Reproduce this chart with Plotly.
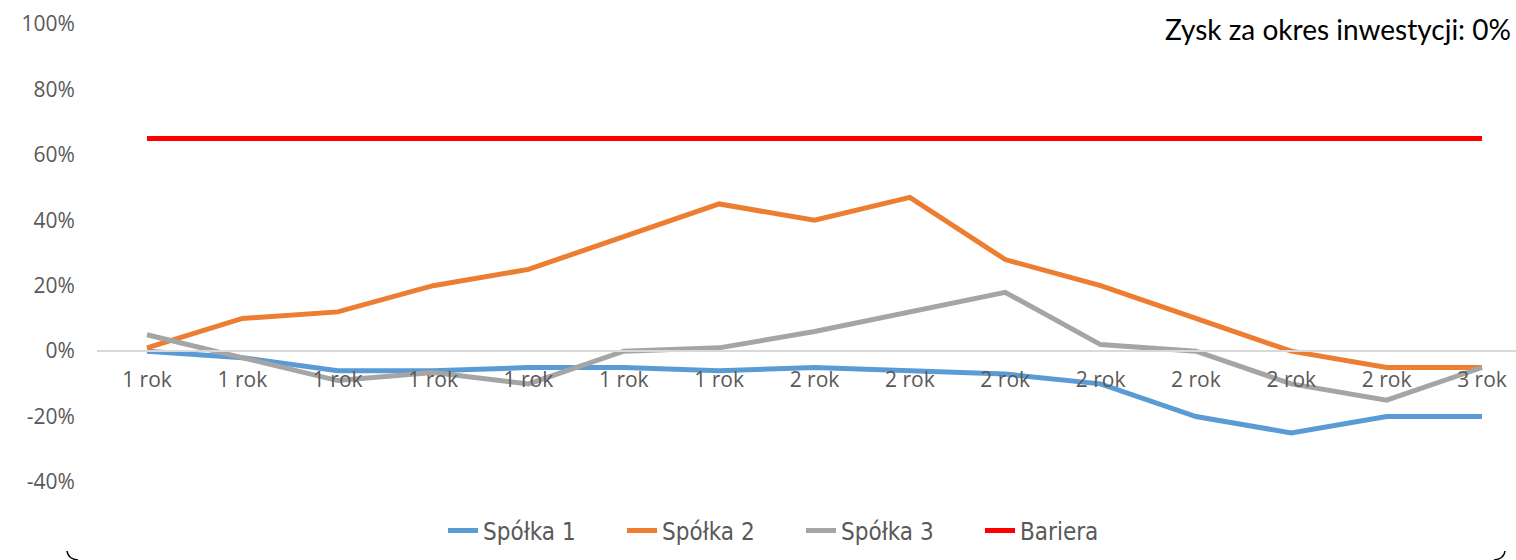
import plotly.graph_objects as go

labels = ["1 rok"] * 7 + ["2 rok"] * 7 + ["3 rok"]
spolka1 = [0, -2, -6, -6, -5, -5, -6, -5, -6, -7, -10, -20, -25, -20, -20]
spolka2 = [1, 10, 12, 20, 25, 35, 45, 40, 47, 28, 20, 10, 0, -5, -5]
spolka3 = [5, -2, -9, -6.5, -10, 0, 1, 6, 12, 18, 2, 0, -10, -15, -5]
bariera = [65] * 15
y_ticks = [-40, -20, 0, 20, 40, 60, 80, 100]

x = list(range(len(labels)))
W, H = 1516, 560
L, R, T, B = 97, 1516, 24, 482

series = [
    ("Spółka 1", spolka1, "#5B9BD5"),
    ("Spółka 2", spolka2, "#ED7D31"),
    ("Spółka 3", spolka3, "#A5A5A5"),
    ("Bariera", bariera, "#FF0000"),
]

fig = go.Figure()
for name, vals, col in series:
    fig.add_trace(go.Scatter(x=x, y=vals, mode="lines", name=name,
                             line=dict(color=col, width=5)))

ymin, ymax = -40, 100
sp = (1482 - 147) / 14.0
r0 = -(147 - L) / sp
r1 = r0 + (R - L) / sp


def px(xp):
    return (xp - L) / (R - L)


def py(yp):
    return (B - yp) / (B - T)


fig.update_layout(
    width=W, height=H,
    margin=dict(l=L, r=W - R, t=T, b=H - B),
    paper_bgcolor="white", plot_bgcolor="white",
    font=dict(family="Open Sans", color="#595959"),
    showlegend=True,
    legend=dict(orientation="h", x=px(443), xanchor="left", y=py(531), yanchor="middle",
                font=dict(family="DejaVu Sans Condensed, DejaVu Sans", size=24, color="#595959"),
                traceorder="normal", itemsizing="constant", tracegroupgap=0,
                entrywidth=134, entrywidthmode="pixels"),
    xaxis=dict(range=[r0, r1], tickmode="array", tickvals=x, ticktext=labels,
               showgrid=False, zeroline=False, showline=True, linecolor="#D9D9D9", linewidth=1.5,
               anchor="free", position=(0 - ymin) / (ymax - ymin),
               ticks="outside", ticklen=10, tickcolor="rgba(0,0,0,0)",
               tickfont=dict(size=21, color="#595959")),
    yaxis=dict(range=[ymin, ymax], tickmode="array", tickvals=y_ticks,
               ticktext=[f"{v}%" for v in y_ticks], showgrid=False, zeroline=False,
               ticks="outside", ticklen=17, tickcolor="rgba(0,0,0,0)",
               tickfont=dict(size=21, color="#595959")),
    annotations=[dict(text="Zysk za okres inwestycji: 0%", xref="paper", yref="paper",
                      x=px(1513), y=py(29), xanchor="right", yanchor="middle",
                      showarrow=False, font=dict(family="Lato", size=28, color="#000000"))],
)

fig.add_shape(type="path", xref="paper", yref="paper",
              path=f"M {px(67)} {py(551)} Q {px(68)} {py(559)} {px(78)} {py(560)}",
              line=dict(color="#000000", width=1.5))
fig.add_shape(type="path", xref="paper", yref="paper",
              path=f"M {px(1505)} {py(551)} Q {px(1504)} {py(559)} {px(1494)} {py(560)}",
              line=dict(color="#000000", width=1.5))

fig.write_html("out.html", config={"displayModeBar": False},
               post_script="document.body.style.margin='0';")
